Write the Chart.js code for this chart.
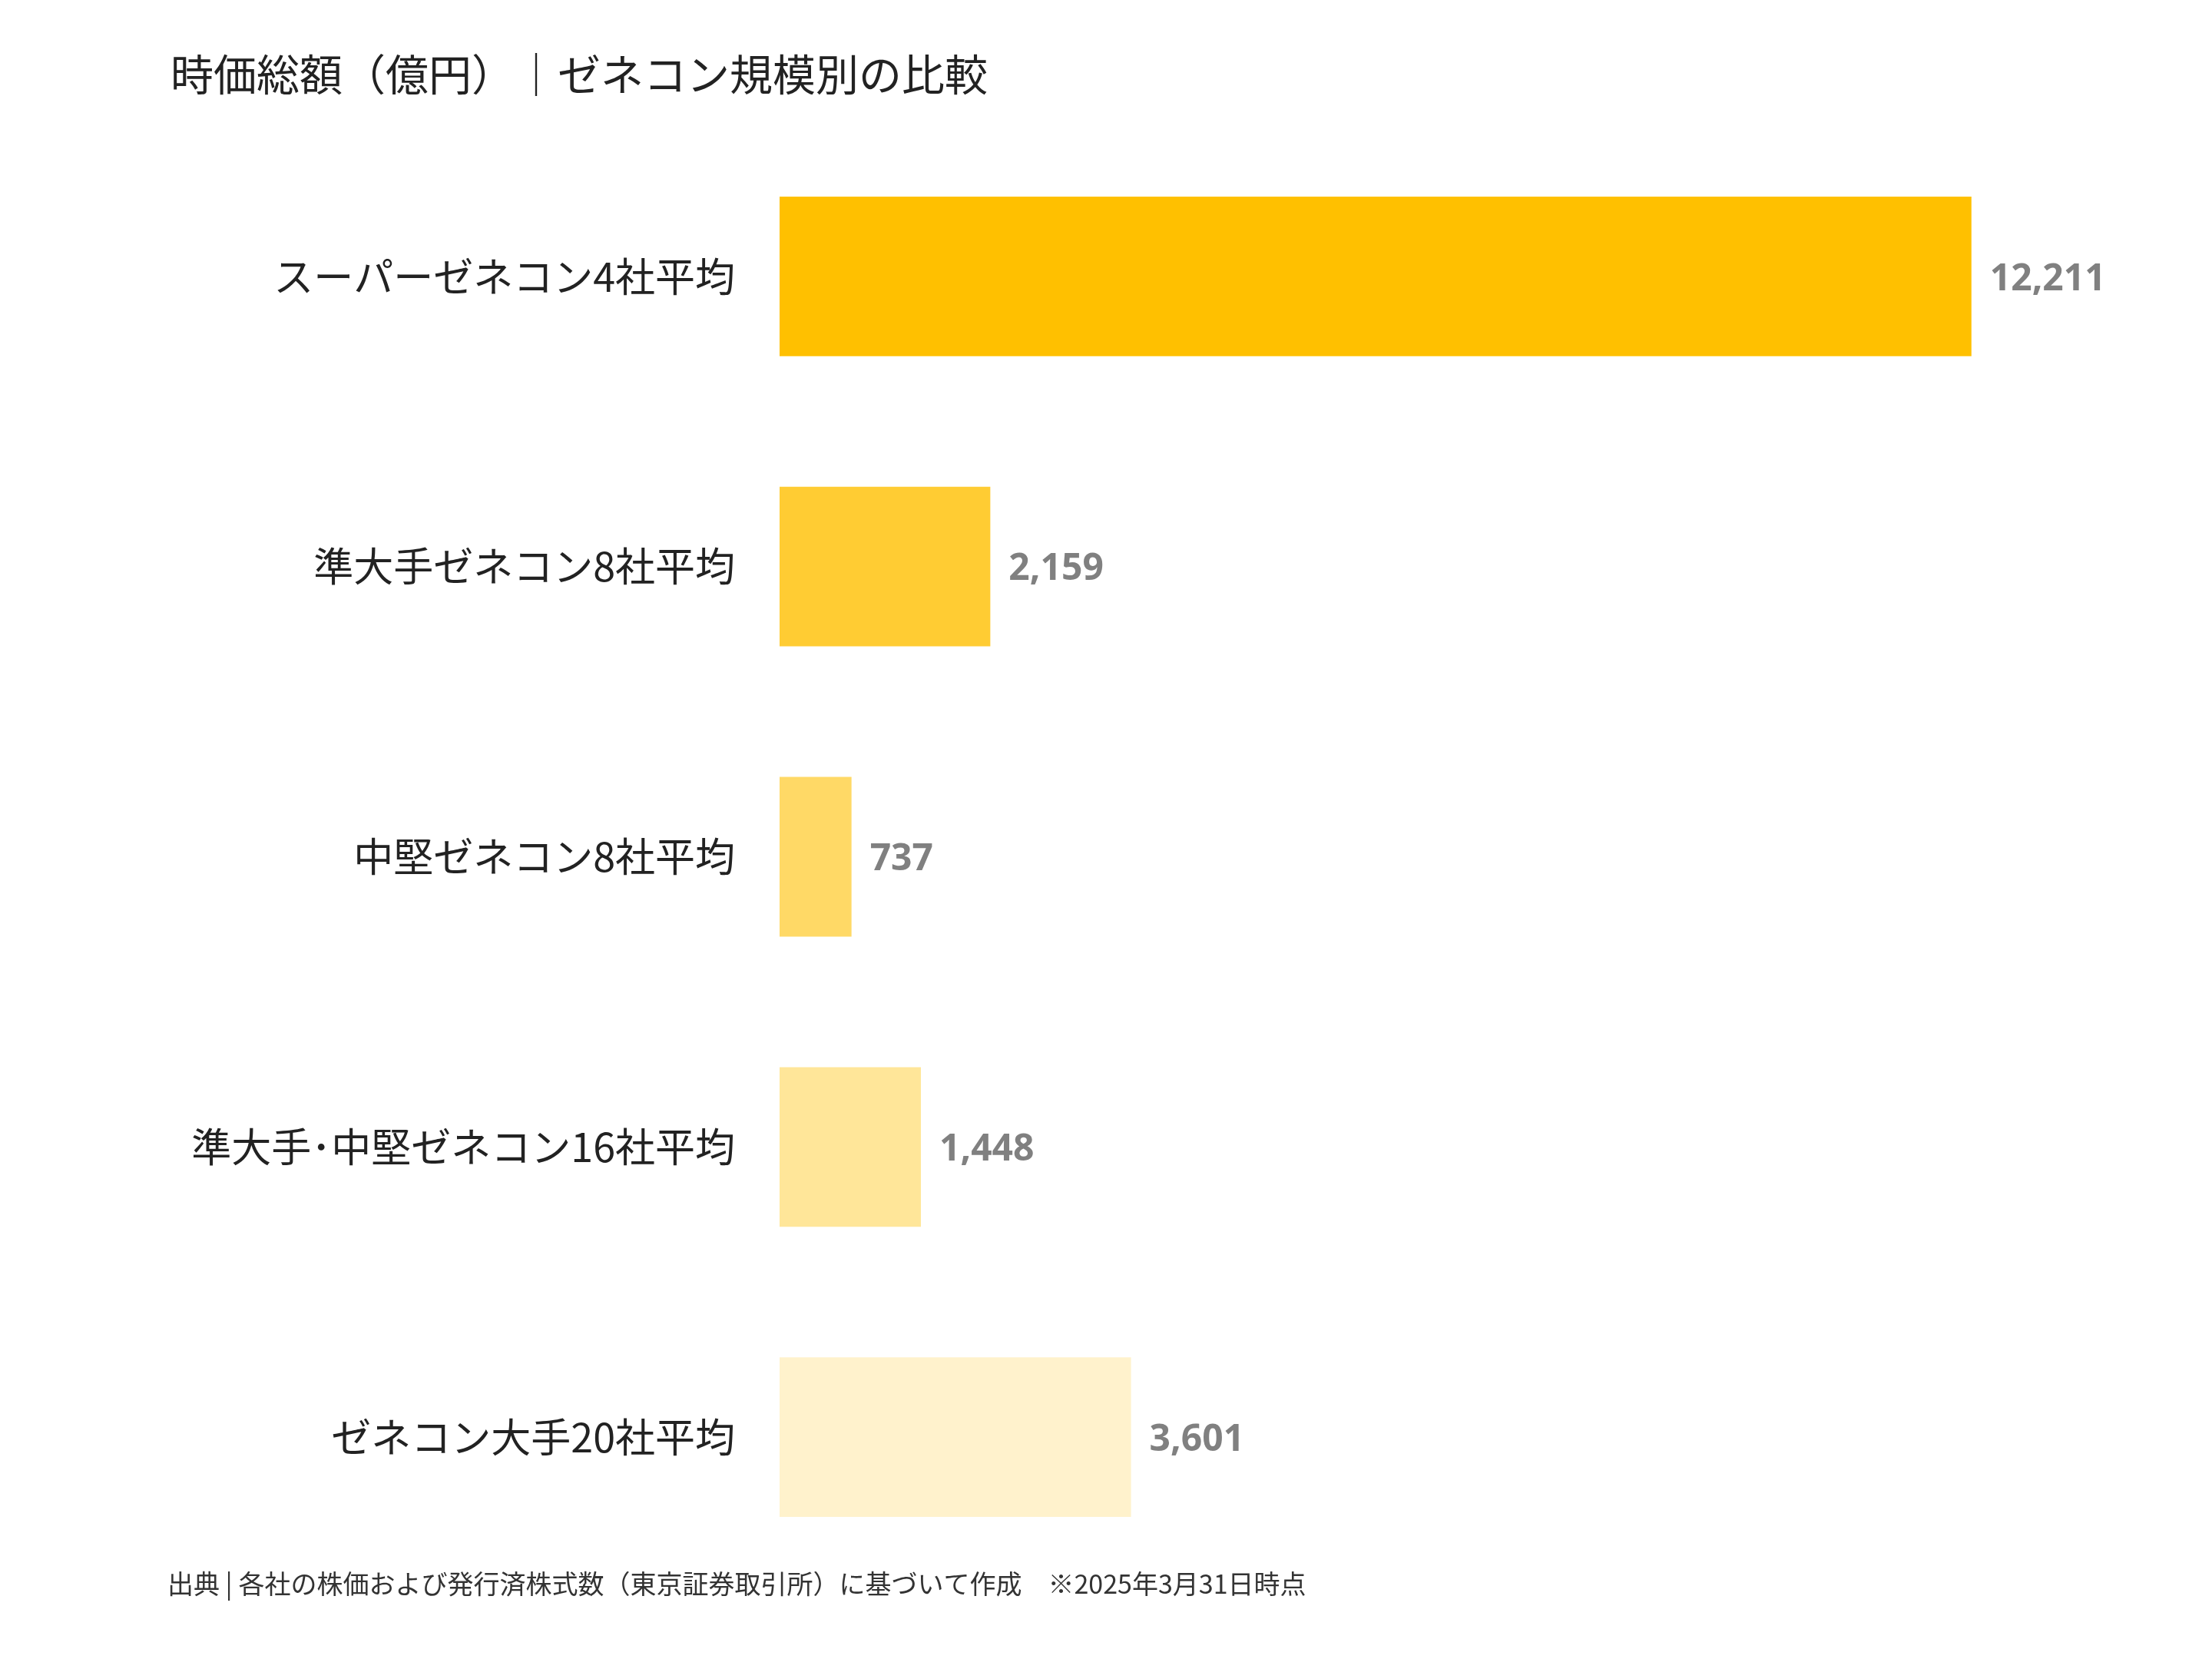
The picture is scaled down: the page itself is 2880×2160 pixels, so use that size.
<!DOCTYPE html>
<html><head><meta charset="utf-8">
<script src="https://cdn.jsdelivr.net/npm/chart.js@4"></script>
<style>html,body{margin:0;padding:0;background:#fff}</style>
</head><body>
<canvas id="c" width="2880" height="2160"></canvas>
<script>
const categories = ["スーパーゼネコン4社平均","準大手ゼネコン8社平均","中堅ゼネコン8社平均","準大手･中堅ゼネコン16社平均","ゼネコン大手20社平均"];
const values = [12211, 2159, 737, 1448, 3601];
const barColors = ["#FFC000","#FFCC33","#FFD966","#FFE699","#FFF2CC"];
const titleText = "時価総額（億円）｜ゼネコン規模別の比較";
const footText = "出典 | 各社の株価および発行済株式数（東京証券取引所）に基づいて作成　※2025年3月31日時点";
const JP = '"Noto Sans CJK JP", "Noto Sans", sans-serif';

const extras = {
  id: 'extras',
  afterDatasetsDraw(chart) {
    const ctx = chart.ctx;
    const meta = chart.getDatasetMeta(0);
    ctx.save();
    ctx.fillStyle = '#808080';
    ctx.font = 'bold 48px "Open Sans", sans-serif';
    ctx.textAlign = 'left'; ctx.textBaseline = 'middle';
    meta.data.forEach((bar, i) => {
      ctx.fillText(values[i].toLocaleString('en-US'), bar.x + 24, bar.y + 4);
    });
    ctx.fillStyle = '#222';
    ctx.font = '56px ' + JP;
    ctx.textBaseline = 'middle';
    ctx.fillText(titleText, 222, 97);
    ctx.fillStyle = '#333';
    ctx.font = '34px ' + JP;
    ctx.fillText(footText, 218, 2062);
    ctx.restore();
  }
};

new Chart(document.getElementById('c'), {
  type: 'bar',
  data: { labels: categories, datasets: [{ data: values, backgroundColor: barColors, barPercentage: 0.55, categoryPercentage: 1.0 }] },
  options: {
    indexAxis: 'y', responsive: false, animation: false,
    layout: { padding: { top: 171, bottom: 100, right: 124, left: 0 } },
    plugins: { legend: { display: false }, tooltip: { enabled: false } },
    scales: {
      x: { display: false, min: 0, max: 13700 },
      y: {
        grid: { display: false }, border: { display: false },
        ticks: { color: '#222', font: { size: 52, family: JP }, padding: 50 },
        afterFit(s) { s.width = 1015; }
      }
    }
  },
  plugins: [extras]
});
</script>
</body></html>
